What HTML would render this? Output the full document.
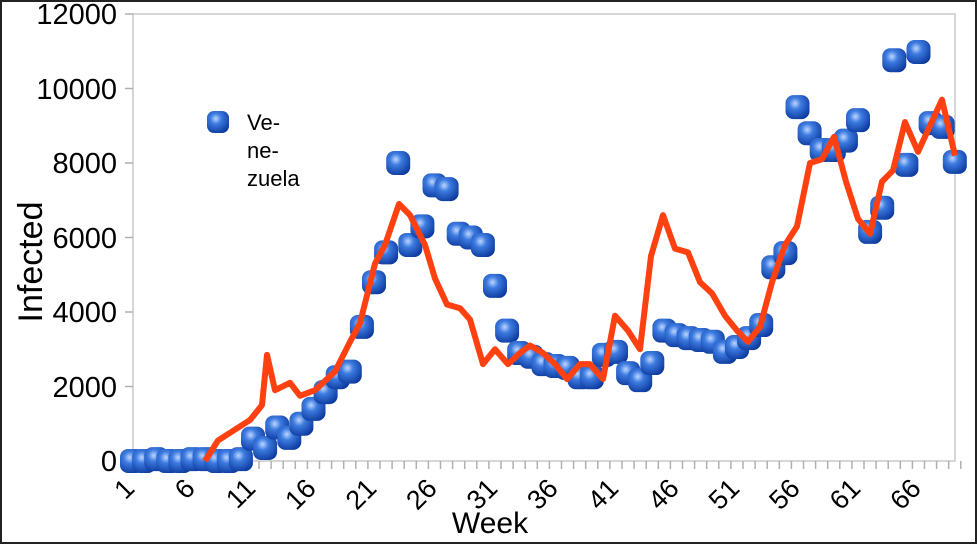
<!DOCTYPE html>
<html><head><meta charset="utf-8"><style>
body{margin:0;background:#fff;}
svg{display:block;font-family:"Liberation Sans",sans-serif;}
</style></head><body>
<svg id="s" width="977" height="544" viewBox="0 0 977 544" xmlns="http://www.w3.org/2000/svg">
<defs>
<radialGradient id="g" cx="0.4" cy="0.35" r="0.7">
<stop offset="0" stop-color="#bcd6ff"/><stop offset="0.35" stop-color="#3d7be0"/><stop offset="1" stop-color="#0d3a9e"/>
</radialGradient>
</defs>
<rect x="1" y="1" width="975" height="542" fill="#fff" stroke="#222" stroke-width="2"/>
<rect x="133" y="14" width="822" height="447" fill="none" stroke="#c8c8c8" stroke-width="1.5"/>
<g id="ax" stroke="#b0b0b0" stroke-width="1.5"></g>
<g font-size="29" fill="#000" text-anchor="end">
<text x="117" y="471">0</text><text x="117" y="397">2000</text><text x="117" y="322">4000</text>
<text x="117" y="248">6000</text><text x="117" y="173">8000</text><text x="117" y="99">10000</text><text x="117" y="24">12000</text>
</g>
<g id="xl" font-size="27" fill="#000" text-anchor="end"></g>
<text transform="translate(42,262) rotate(-90)" font-size="34" text-anchor="middle">Infected</text>
<text x="490" y="533" font-size="30" text-anchor="middle">Week</text>
<g id="pts"></g>
<polyline id="ln" fill="none" stroke="#ff4010" stroke-width="6" stroke-linejoin="round"/>
<rect x="207" y="111" width="22" height="22" rx="7" fill="url(#g)"/>
<g font-size="22"><text x="247" y="130">Ve-</text><text x="247" y="158">ne-</text><text x="247" y="186">zuela</text></g>
</svg>
<script>
const Y=v=>461-v*0.03725, X=i=>132+(i-1)*12.1;
let ax=document.getElementById('ax'),h='';
for(let k=0;k<=6;k++){let y=461-k*74.5;h+=`<line x1="125" x2="133" y1="${y}" y2="${y}"/>`;}
for(let i=1;i<=69;i++){let x=X(i)+6;h+=`<line x1="${x}" x2="${x}" y1="461" y2="469"/>`;}
ax.innerHTML=h;
let xl='';for(let w=1;w<=66;w+=5){let x=X(w)+4;xl+=`<text transform="translate(${x},490) rotate(-45)">${w}</text>`;}
document.getElementById('xl').innerHTML=xl;
const d=[0,0,50,0,0,50,50,0,0,50,600,350,900,620,1000,1400,1850,2250,2400,3600,4800,5600,8000,5800,6300,7400,7300,6100,6000,5800,4700,3500,2900,2800,2600,2550,2500,2250,2250,2850,2930,2360,2170,2630,3500,3380,3300,3250,3200,2930,3060,3300,3650,5200,5580,9500,8800,8350,8350,8600,9150,6150,6800,10760,7950,10980,9070,8970,8030];
let p='';d.forEach((v,i)=>{p+=`<rect x="${X(i+1)-12}" y="${Y(v)-12}" width="24" height="24" rx="8" fill="url(#g)"/>`;});
document.getElementById('pts').innerHTML=p;
const r=[[205,0],[218,550],[250,1100],[262,1500],[267,2850],[275,1900],[290,2100],[300,1750],[315,1900],[335,2400],[350,3200],[360,3700],[375,5300],[385,5800],[399,6900],[410,6600],[425,5800],[435,4900],[447,4200],[460,4100],[470,3800],[483,2600],[495,3000],[508,2600],[520,2900],[530,3100],[543,2900],[555,2600],[567,2200],[580,2600],[590,2600],[603,2200],[615,3900],[628,3500],[640,3000],[651,5500],[663,6600],[675,5700],[688,5600],[700,4800],[712,4500],[725,3900],[737,3500],[748,3200],[760,3600],[772,4800],[785,5800],[797,6300],[810,8000],[822,8100],[834,8700],[846,7500],[858,6500],[870,6100],[882,7500],[893,7800],[905,9100],[918,8300],[930,9000],[942,9700],[955,8200]];
document.getElementById('ln').setAttribute('points',r.map(a=>a[0]+','+Y(a[1])).join(' '));
</script>
</body></html>
